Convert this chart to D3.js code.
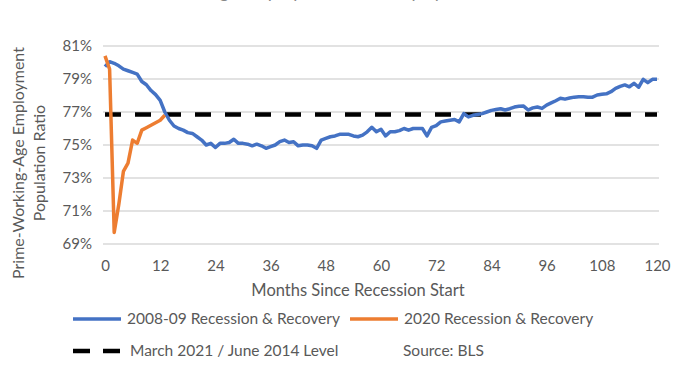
<!DOCTYPE html>
<head>
  <meta charset="utf-8">
  <script src="https://d3js.org/d3.v7.min.js"></script>
  <style>
    body { margin:0; background:#fff; }
    text { font-family: Lato, "Open Sans", sans-serif; fill:#595959; }
  </style>
</head>
<body>
<script>
// months since recession start 0..120 (2008-09) and 0..13 (2020)
var blue = [79.75,80.05,79.95,79.8,79.6,79.5,79.4,79.3,78.85,78.65,
            78.3,78.05,77.7,77.0,76.5,76.15,76.0,75.9,75.75,75.7,
            75.5,75.3,75.0,75.1,74.85,75.1,75.1,75.15,75.35,75.1,
            75.1,75.05,74.95,75.05,74.95,74.8,74.9,75.0,75.2,75.3,
            75.15,75.2,74.95,75.0,75.0,74.95,74.8,75.3,75.4,75.5,
            75.55,75.65,75.65,75.65,75.55,75.5,75.6,75.8,76.07,75.8,
            75.95,75.55,75.8,75.8,75.87,76.0,75.9,76.0,76.0,76.0,
            75.55,76.07,76.17,76.4,76.45,76.5,76.55,76.4,76.9,76.7,
            76.8,76.85,76.9,77.0,77.1,77.15,77.2,77.12,77.2,77.3,
            77.35,77.36,77.12,77.25,77.3,77.22,77.42,77.55,77.68,77.83,
            77.78,77.85,77.9,77.93,77.93,77.9,77.9,78.03,78.07,78.1,
            78.23,78.43,78.55,78.64,78.53,78.74,78.5,78.98,78.78,78.98,
            78.98];
var orange = [80.4,79.6,69.7,71.4,73.4,73.9,75.3,75.1,75.9,76.05,76.2,76.35,76.5,76.8];
var level = 76.85;
var xTicks = d3.range(0, 121, 12);
var yTicks = [69, 71, 73, 75, 77, 79, 81];

var width = 686, height = 370;
var svg = d3.select("body").append("svg")
  .attr("width", width).attr("height", height);

var x = d3.scaleLinear().domain([0, 120]).range([105, 657]);
var y = d3.scaleLinear().domain([69, 81]).range([244, 46]);

// faint title, cut off at the top like the source image
svg.append("text")
  .attr("x", 340).attr("y", -2)
  .attr("text-anchor", "middle")
  .style("font-size", "18px").style("fill", "#888")
  .text("Prime-Age Employment Recovery by Recession");

// gridlines
svg.append("g").selectAll("line")
  .data(yTicks).enter().append("line")
  .attr("x1", 103).attr("x2", 659)
  .attr("y1", d => y(d)).attr("y2", d => y(d))
  .attr("stroke", "#d9d9d9").attr("stroke-width", 1.3);

// y axis labels
var yAxis = svg.append("g")
  .attr("transform", "translate(" + 92 + ",0)")
  .call(d3.axisLeft(y).tickValues(yTicks).tickSize(0).tickPadding(0)
    .tickFormat(d => d + "%"));
yAxis.select(".domain").remove();
yAxis.selectAll("text").style("font-size", "15px").style("font-family", null);

// x axis labels
var xAxis = svg.append("g")
  .attr("transform", "translate(0," + 260 + ")")
  .call(d3.axisBottom(x).tickValues(xTicks).tickSize(0).tickPadding(0));
xAxis.select(".domain").remove();
xAxis.selectAll("text").style("font-size", "15px").style("font-family", null);

// axis titles
svg.append("text")
  .attr("x", 358).attr("y", 296)
  .attr("text-anchor", "middle")
  .style("font-size", "16.5px")
  .text("Months Since Recession Start");

var yt = svg.append("text")
  .attr("transform", "translate(24,163) rotate(-90)")
  .attr("text-anchor", "middle")
  .style("font-size", "16px");
yt.append("tspan").attr("x", 0).attr("dy", 0).text("Prime-Working-Age Employment");
yt.append("tspan").attr("x", 0).attr("dy", 21).text("Population Ratio");

// level line
svg.append("line")
  .attr("x1", x(0)).attr("x2", x(120))
  .attr("y1", y(level)).attr("y2", y(level))
  .attr("stroke", "#000").attr("stroke-width", 4.5)
  .attr("stroke-dasharray", "16,14");

var line = d3.line()
  .x((d, i) => x(i))
  .y(d => y(d));

svg.append("path")
  .datum(blue)
  .attr("d", line)
  .attr("fill", "none")
  .attr("stroke", "#4472C4")
  .attr("stroke-width", 3.5)
  .attr("stroke-linejoin", "round");

svg.append("path")
  .datum(orange)
  .attr("d", line)
  .attr("fill", "none")
  .attr("stroke", "#ED7D31")
  .attr("stroke-width", 3.5)
  .attr("stroke-linejoin", "round");

// legend
var legend = [
  {label: "2008-09 Recession & Recovery", color: "#4472C4", dash: null, x: 73, y: 319},
  {label: "2020 Recession & Recovery", color: "#ED7D31", dash: null, x: 350, y: 319},
  {label: "March 2021 / June 2014 Level", color: "#000", dash: "17,13", x: 73, y: 351}
];
var lg = svg.append("g").selectAll("g")
  .data(legend).enter().append("g")
  .attr("transform", d => "translate(" + d.x + "," + d.y + ")");
lg.append("line")
  .attr("x1", 0).attr("x2", 48)
  .attr("stroke", d => d.color)
  .attr("stroke-width", d => d.dash ? 4.5 : 3.5)
  .attr("stroke-dasharray", d => d.dash);
lg.append("text")
  .attr("x", d => d.dash ? 57 : 54).attr("dy", "0.35em")
  .style("font-size", "15.5px")
  .text(d => d.label);

svg.append("text")
  .attr("x", 403).attr("y", 351).attr("dy", "0.35em")
  .style("font-size", "15.5px")
  .text("Source: BLS");
</script>
</body>
